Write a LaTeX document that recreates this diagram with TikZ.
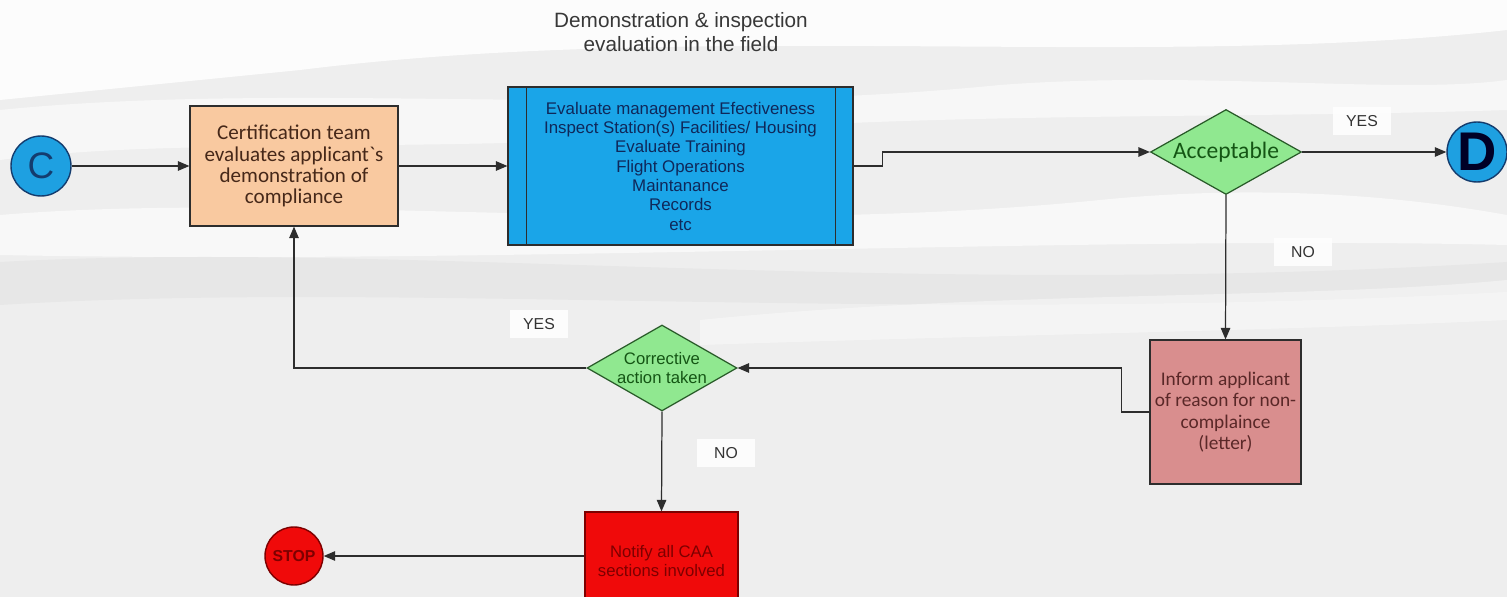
\documentclass[tikz,border=0pt]{standalone}
\usepackage{fontspec}
\setmainfont{Liberation Sans}
\newfontfamily\calfont{Carlito}
\usetikzlibrary{shapes.geometric,arrows.meta}

\definecolor{bgcol}{RGB}{238,238,238}
\definecolor{linecol}{RGB}{45,45,45}
\definecolor{conblue}{RGB}{30,160,225}
\definecolor{conedge}{RGB}{20,60,110}
\definecolor{peach}{RGB}{249,201,160}
\definecolor{procblue}{RGB}{26,165,232}
\definecolor{navytext}{RGB}{15,40,90}
\definecolor{decgreen}{RGB}{144,232,144}
\definecolor{decedge}{RGB}{40,90,40}
\definecolor{dectext}{RGB}{20,85,20}
\definecolor{rose}{RGB}{217,142,142}
\definecolor{rosetext}{RGB}{90,40,40}
\definecolor{stopred}{RGB}{240,10,10}
\definecolor{stoptext}{RGB}{125,0,0}
\definecolor{browntext}{RGB}{70,40,25}

\begin{document}
\begin{tikzpicture}[x=0.02cm,y=-0.02cm,
  flow/.style={draw=linecol,line width=0.7pt,-{Triangle[length=2.3mm,width=1.9mm]}},
  connector/.style={circle,draw=conedge,line width=0.8pt,fill=conblue,minimum size=1.2cm,inner sep=0pt,text=conedge},
  procbox/.style={rectangle,draw=linecol,line width=0.7pt,align=center,inner sep=2pt},
  decision/.style={diamond,shape aspect=1.8,draw=decedge,line width=0.7pt,fill=decgreen,text=dectext,align=center,inner sep=0pt},
  tag/.style={fill=white,fill opacity=0.85,text opacity=1,inner sep=0pt,minimum width=1.15cm,minimum height=0.56cm,font=\fontsize{9}{10}\selectfont,text=black!80}]

\useasboundingbox (0,0) rectangle (1507,597);
\clip (0,0) rectangle (1507,597);

% soft cloudy backdrop
\fill[bgcol] (0,0) rectangle (1507,597);
\fill[white,opacity=0.85] (0,0) -- (1507,0) -- (1507,30) .. controls (1150,70) and (700,20) .. (300,70) .. controls (150,85) and (50,95) .. (0,100) -- cycle;
\fill[white,opacity=0.55] (0,110) .. controls (300,80) and (650,120) .. (1000,85) .. controls (1200,70) and (1400,95) .. (1507,80) -- (1507,110) .. controls (1200,120) and (900,110) .. (600,140) .. controls (350,150) and (150,140) .. (0,160) -- cycle;
\fill[white,opacity=0.6] (0,215) .. controls (300,190) and (700,240) .. (1100,200) .. controls (1300,180) and (1450,205) .. (1507,215) -- (1507,245) .. controls (1100,235) and (500,265) .. (0,255) -- cycle;
\fill[gray!25,opacity=0.45] (0,262) .. controls (400,240) and (900,300) .. (1507,262) -- (1507,292) .. controls (900,325) and (400,280) .. (0,305) -- cycle;
\fill[white,opacity=0.4] (700,320) .. controls (1000,290) and (1300,300) .. (1507,280) -- (1507,320) .. controls (1300,330) and (1000,335) .. (700,345) -- cycle;

% heading
\node (title) at (681,32) [align=center,text=black!78,font=\fontsize{11.8}{14}\selectfont]
  {Demonstration \& inspection\\evaluation in the field};

% connectors
\node[connector,font=\fontsize{21}{21}\selectfont] (C) at (41,166) {C};
\node[connector,text=black!85!blue,font=\fontsize{31}{31}\selectfont\bfseries] (D) at (1477,152) {D};
\node[circle,draw=stoptext,line width=0.8pt,fill=stopred,minimum size=1.16cm,inner sep=0pt,
      text=stoptext,font=\fontsize{9}{9}\selectfont\bfseries] (stop) at (294,556) {STOP};

% process boxes
\node[procbox,fill=peach,text=browntext,minimum width=4.16cm,minimum height=2.4cm,
      font=\calfont\fontsize{12}{12}\selectfont] (cert) at (294,166)
  {Certification team\\evaluates applicant\textasciigrave s\\demonstration of\\compliance};

\node[procbox,fill=procblue,text=navytext,minimum width=6.9cm,minimum height=3.16cm,
      font=\fontsize{9.6}{11}\selectfont] (blue) at (680.5,166)
  {Evaluate management Efectiveness\\Inspect Station(s) Facilities/ Housing\\Evaluate Training\\Flight Operations\\Maintanance\\Records\\etc};
\draw[linecol,line width=0.7pt] ([xshift=0.38cm]blue.north west) -- ([xshift=0.38cm]blue.south west);
\draw[linecol,line width=0.7pt] ([xshift=-0.36cm]blue.north east) -- ([xshift=-0.36cm]blue.south east);

\node[procbox,fill=rose,text=rosetext,minimum width=3.02cm,minimum height=2.88cm,
      font=\calfont\fontsize{11}{12.2}\selectfont] (inform) at (1225.5,412)
  {Inform applicant\\of reason for non-\\complaince\\(letter)};

\node[procbox,fill=stopred,draw=stoptext,text=stoptext,minimum width=3.06cm,minimum height=1.96cm,
      font=\fontsize{9.5}{11.3}\selectfont] (notify) at (661.5,561)
  {Notify all CAA\\sections involved};

% decisions
\node[decision,minimum width=3.02cm,minimum height=1.7cm,font=\calfont\fontsize{13.4}{13.4}\selectfont] (acc) at (1226,152) {Acceptable};
\node[decision,minimum width=3.0cm,minimum height=1.72cm,font=\fontsize{9.5}{10.8}\selectfont] (corr) at (662,368) {Corrective\\action taken};

% flow lines
\draw[flow] (C) -- (cert);
\draw[flow] (cert) -- (blue);
\draw[flow] (blue.east) -- ++(29,0) |- (acc.west);
\draw[flow] (acc) -- (D);
\draw[flow] (acc.south) -- (inform.north);
\draw[flow] (inform.west) -- ++(-28,0) |- (corr.east);
\draw[flow] (corr.west) -| (cert.south);
\draw[flow] (corr.south) -- (notify.north);
\draw[flow] (stop.east -| notify.west) -- (stop.east);

% branch labels
\node[tag] (yes1) at (1362,121) {YES};
\node[tag] (no1) at (1303,252) {NO};
\node[tag] (yes2) at (539,324) {YES};
\node[tag] (no2) at (726,453) {NO};

\end{tikzpicture}
\end{document}
